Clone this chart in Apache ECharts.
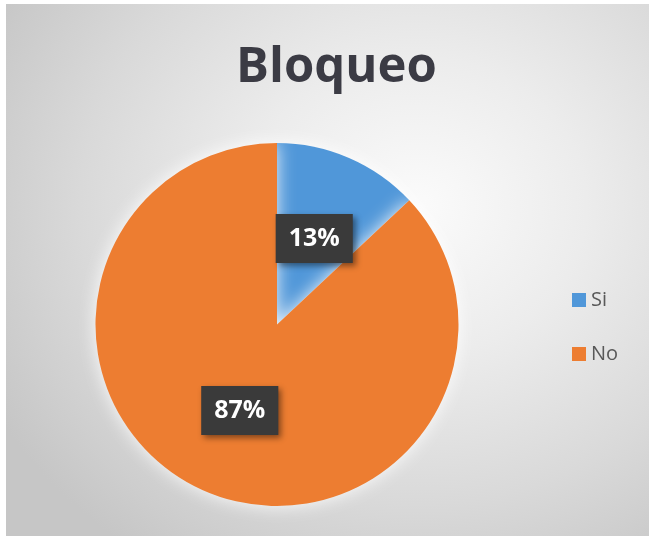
<!DOCTYPE html>
<html>
<head>
<meta charset="utf-8">
<script src="https://cdn.jsdelivr.net/npm/echarts@6/dist/echarts.min.js"></script>
<style>
    html, body { margin: 0; padding: 0; background: #fff; }
    #bg {
        position: absolute; left: 6px; top: 4px; width: 643px; height: 532px;
        background: radial-gradient(ellipse 75% 80% at 64% 38%, #fbfbfb 0%, #ececec 35%, #d9d9d9 70%, #c6c6c6 100%);
    }
    #main { position: absolute; left: 0; top: 0; width: 649px; height: 536px; }
</style>
</head>
<body>
<div id="bg"></div>
<div id="main"></div>
<script>
    // datos del gráfico
    var categorias = ['Si', 'No'];
    var valores = [13, 87];
    var colores = ['#5097d9', '#ed7d31'];

    var datos = [];
    for (var i = 0; i < categorias.length; i++) {
        datos.push({ name: categorias[i], value: valores[i], itemStyle: { color: colores[i] } });
    }

    var myChart = echarts.init(document.getElementById('main'));
    var option = {
        backgroundColor: 'transparent',
        animation: false,
        title: {
            text: 'Bloqueo',
            left: 231,
            top: 39,
            textStyle: {
                fontFamily: 'Open Sans',
                fontSize: 49,
                fontWeight: 'bold',
                color: '#3b3b44'
            }
        },
        legend: {
            orient: 'vertical',
            left: 567,
            top: 285,
            icon: 'rect',
            itemWidth: 14,
            itemHeight: 14,
            itemGap: 34,
            data: categorias,
            textStyle: {
                fontFamily: 'Open Sans',
                fontSize: 20,
                color: '#595959'
            }
        },
        series: [
            {
                name: 'Bloqueo',
                type: 'pie',
                center: [277, 324.5],
                radius: 181.5,
                startAngle: 90,
                clockwise: true,
                emphasis: { disabled: true },
                itemStyle: {
                    shadowBlur: 18,
                    shadowColor: 'rgba(255,255,255,0.9)'
                },
                label: {
                    show: true,
                    position: 'inside',
                    formatter: '{d}%',
                    fontFamily: 'Open Sans',
                    fontSize: 25,
                    fontWeight: 'bold',
                    color: '#ffffff',
                    backgroundColor: '#3a3a3a',
                    padding: [11, 13, 10, 13],
                    lineHeight: 28,
                    shadowBlur: 6,
                    shadowOffsetX: 3,
                    shadowOffsetY: 3,
                    shadowColor: 'rgba(0,0,0,0.45)'
                },
                labelLine: { show: false },
                data: datos
            }
        ]
    };
    myChart.setOption(option);
</script>
</body>
</html>
